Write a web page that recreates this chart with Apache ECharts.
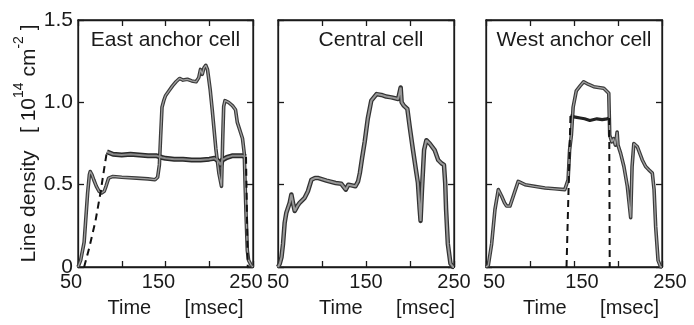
<!DOCTYPE html>
<html><head><meta charset="utf-8">
<script src="https://cdn.jsdelivr.net/npm/echarts@6/dist/echarts.min.js"></script>
<style>html,body{margin:0;padding:0;background:#fff}#c{width:694px;height:325px}</style>
</head><body><div id="c"></div>
<script>
// ---- text ----
const panelTitles = ['East anchor cell', 'Central cell', 'West anchor cell'];
const xTickLabels = [50, 150, 250];
const yTickLabels = ['0', '0.5', '1.0', '1.5'];
const xName = 'Time      [msec]';

// ---- data: [time (msec), line density (1e14 cm^-2)] ----
const eastMain = [[50,0],[53,0.04],[55,0.03],[57,0.15],[59,0.30],[61,0.45],[63,0.56],[64,0.58],[66,0.56],[68,0.53],[71,0.49],[74,0.46],[77,0.45],[80,0.46],[82,0.49],[85,0.54],[90,0.55],[100,0.545],[117,0.54],[130,0.535],[138,0.53],[141,0.545],[143,0.62],[144.5,0.80],[146,0.97],[148,1.01],[150,1.04],[154,1.07],[158,1.10],[162,1.125],[166,1.145],[170,1.135],[175,1.14],[180,1.13],[185,1.125],[188,1.15],[190,1.20],[192,1.17],[194,1.21],[196,1.225],[198,1.20],[199,1.19],[201,1.08],[203.5,0.95],[207.5,0.72],[211,0.57],[214,0.49],[215.5,0.80],[216.5,0.975],[218,1.01],[222,1.00],[226.5,0.98],[230,0.955],[232,0.88],[235,0.83],[238,0.78],[240,0.69],[241,0.5],[242,0.33],[243.5,0.1],[245,0.04],[248,0.01],[250,0]];
const eastFlat = [[83,0.70],[90,0.685],[100,0.68],[110,0.685],[120,0.68],[130,0.675],[140,0.675],[146,0.665],[150,0.66],[160,0.655],[170,0.655],[180,0.65],[190,0.65],[200,0.655],[206,0.66],[210,0.645],[213,0.62],[215,0.65],[220,0.665],[226,0.675],[232,0.675],[238,0.675],[242,0.67]];
const eastDashRise = [[57,0],[63,0.12],[70,0.28],[76,0.46],[80,0.60],[83,0.70]];
const eastDashFall = [[242,0.67],[243,0.35],[244,0]];

const centralMain = [[50,0],[52,0.02],[54,0.06],[55.7,0.14],[57.6,0.27],[59.5,0.33],[63.3,0.39],[65.2,0.44],[67,0.39],[69,0.34],[72,0.37],[74.6,0.39],[80.3,0.42],[84,0.46],[88,0.53],[92,0.54],[96,0.54],[105,0.525],[115.5,0.51],[122,0.505],[127,0.47],[130,0.50],[138,0.49],[141,0.52],[143,0.57],[145.5,0.66],[148.5,0.76],[152,0.90],[156,1.01],[162,1.05],[167.5,1.045],[173,1.035],[179,1.03],[186.5,1.02],[188.5,1.03],[189.4,1.09],[190.5,1.00],[193,0.98],[197,0.96],[199.7,0.85],[203.4,0.71],[207.3,0.57],[209,0.51],[211,0.35],[212,0.28],[213.6,0.47],[216,0.71],[218.6,0.77],[222.4,0.75],[228,0.71],[232,0.65],[235.7,0.63],[238.6,0.62],[240,0.51],[241,0.35],[243,0.14],[246,0.02],[249,0],[250,0]];

const westMain = [[50,0],[52.6,0.01],[56.4,0.14],[60.2,0.35],[64,0.47],[67.8,0.43],[71,0.39],[73.4,0.37],[77.2,0.37],[81,0.43],[86.6,0.52],[94.3,0.50],[105,0.49],[117,0.48],[128,0.475],[139.5,0.47],[143.3,0.53],[145,0.71],[147,0.80],[149,0.97],[152.6,1.07],[157,1.10],[161,1.125],[166,1.11],[172.4,1.095],[178,1.09],[183.8,1.085],[189.5,1.055],[190.6,0.80],[193,0.76],[195,0.78],[197,0.74],[199,0.82],[200,0.74],[203,0.69],[206.7,0.61],[210.6,0.49],[214.4,0.30],[216,0.61],[218,0.75],[222,0.73],[227.6,0.65],[231.4,0.61],[235,0.59],[239,0.57],[241,0.47],[242.8,0.245],[245.5,0.04],[248.5,0],[250,0]];
const westLower = [[146,0.92],[148,0.93],[151.5,0.91],[157,0.905],[162,0.90],[168,0.89],[176,0.90],[182,0.895],[187.5,0.90],[190,0.905]];
const westDashRise = [[141.5,0],[146,0.92]];
const westDashFall = [[190,0.905],[190.6,0]];

// ---- layout ----
const FONT = 'Liberation Sans';
const INK = '#1a1a1a';
const grids = [
  {left: 78, top: 20, width: 175, height: 247},
  {left: 278, top: 20, width: 176, height: 247},
  {left: 486, top: 20, width: 176, height: 247}
].map(g => Object.assign(g, {show: true, borderColor: INK, borderWidth: 1.3, backgroundColor: 'rgba(0,0,0,0)'}));
const xLabelPad = [[0,14,0,0],[0,0,0,0],[0,0,0,16]];
const xNamePad = [[0,0,0,20],[0,0,0,42],[0,0,0,34]];

const frameLine = () => ({show: true, onZero: false, lineStyle: {color: INK, width: 1.3}});
const tickStyle = () => ({show: true, inside: true, length: 6, lineStyle: {color: INK, width: 1.3}});
const xAxes = [], yAxes = [];
grids.forEach((g, i) => {
  xAxes.push({
    gridIndex: i, type: 'value', min: 50, max: 250, interval: 50, position: 'bottom',
    axisLine: frameLine(), splitLine: {show: false}, axisTick: tickStyle(),
    axisLabel: {margin: 5, fontSize: 20, fontFamily: FONT, color: INK, padding: xLabelPad[i],
      formatter: v => xTickLabels.includes(v) ? String(v) : ''},
    name: xName, nameLocation: 'middle', nameGap: 31,
    nameTextStyle: {fontSize: 20, fontFamily: FONT, color: INK, padding: xNamePad[i]}
  });
  xAxes.push({
    gridIndex: i, type: 'value', min: 50, max: 250, interval: 50, position: 'top',
    axisLine: frameLine(), splitLine: {show: false}, axisTick: tickStyle(),
    axisLabel: {show: false}
  });
  yAxes.push({
    gridIndex: i, type: 'value', min: 0, max: 1.5, interval: 0.5, position: 'left',
    axisLine: frameLine(), splitLine: {show: false}, axisTick: tickStyle(),
    axisLabel: {show: i === 0, margin: 5, fontSize: 21, fontFamily: FONT, color: INK,
      formatter: v => yTickLabels[Math.round(v / 0.5)]},
    name: i === 0 ? '{a|Line density   [ 10}{s|14}{a| cm}{s|-2}{a| ]}' : '',
    nameLocation: 'middle', nameRotate: 90, nameGap: 38,
    nameTextStyle: {rich: {
      a: {fontSize: 21, fontFamily: FONT, color: INK, lineHeight: 28, verticalAlign: 'bottom'},
      s: {fontSize: 14, fontFamily: FONT, color: INK, lineHeight: 14, verticalAlign: 'top'}
    }}
  });
  yAxes.push({
    gridIndex: i, type: 'value', min: 0, max: 1.5, interval: 0.5, position: 'right',
    axisLine: frameLine(), splitLine: {show: false}, axisTick: tickStyle(),
    axisLabel: {show: false}
  });
});

const series = [];
function trace(i, data, outer, inner) {
  series.push({type: 'line', xAxisIndex: 2*i, yAxisIndex: 2*i, data: data, symbol: 'none',
    lineStyle: {color: outer.color, width: outer.width, join: 'round'}, z: 3});
  if (inner) series.push({type: 'line', xAxisIndex: 2*i, yAxisIndex: 2*i, data: data, symbol: 'none',
    lineStyle: {color: inner.color, width: inner.width}, z: 4});
}
function dashed(i, data) {
  series.push({type: 'line', xAxisIndex: 2*i, yAxisIndex: 2*i, data: data, symbol: 'none',
    lineStyle: {color: '#111', width: 2, type: [7, 5]}, z: 5});
}
const OUT = {color: '#3a3a3a', width: 3.6}, IN = {color: '#a0a0a0', width: 1.3};
trace(0, eastMain, OUT, IN);
trace(0, eastFlat, {color: '#2a2a2a', width: 5}, {color: '#8a8a8a', width: 2});
dashed(0, eastDashRise); dashed(0, eastDashFall);
trace(1, centralMain, {color: '#333', width: 4.5}, {color: '#999', width: 2});
trace(2, westMain, OUT, IN);
trace(2, westLower, {color: '#222', width: 3.2});
dashed(2, westDashRise); dashed(2, westDashFall);

const titles = panelTitles.map((t, i) => ({
  text: t, left: grids[i].left + grids[i].width / 2 + (i === 1 ? 5 : 0), top: 30, textAlign: 'center', padding: 0,
  textStyle: {fontSize: 21, fontWeight: 'normal', fontFamily: FONT, color: INK}
}));

const chart = echarts.init(document.getElementById('c'), null, {renderer: 'canvas'});
chart.setOption({
  animation: false, backgroundColor: '#fff',
  title: titles, grid: grids, xAxis: xAxes, yAxis: yAxes, series: series
});
</script></body></html>
